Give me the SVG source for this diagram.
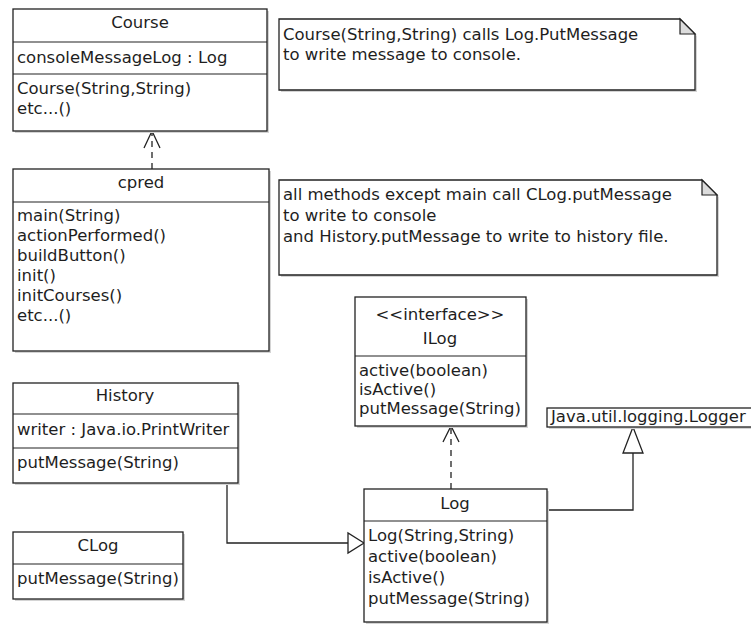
<svg xmlns="http://www.w3.org/2000/svg" width="751" height="625" viewBox="0 0 751 625">
<defs>
<style>
.box{fill:#fff;stroke:#222;stroke-width:1.3}
.sh{fill:#d4d4d4}
.div{stroke:#222;stroke-width:1.2}
text{font-family:"DejaVu Sans","Liberation Sans",sans-serif;font-size:16.5px;fill:#1e1e1e}
.c{text-anchor:middle}
.ln{fill:none;stroke:#222;stroke-width:1.3}
.dash{stroke-dasharray:6 5}
.head{fill:#fff;stroke:#222;stroke-width:1.3}
.fold{fill:#dcdcdc;stroke:#222;stroke-width:1.2}
</style>
</defs>
<rect width="751" height="625" fill="#fff"/>

<g id="connectors">
<path class="ln dash" d="M152,169 V133"/>
<path class="ln" d="M144,148 L152,131 L160,148"/>
<path class="ln dash" d="M451,489 V428"/>
<path class="ln" d="M443,442 L451,426 L459,442"/>
<path class="ln" d="M547,510 H633 V453"/>
<path class="head" d="M633,427 L623,453 L643,453 Z"/>
<path class="ln" d="M227,483 V543 H348"/>
<path class="head" d="M364,543 L348,533 L348,553 Z"/>
</g>

<g id="course">
<rect class="sh" x="15" y="11" width="254" height="122"/>
<rect class="box" x="13" y="9" width="254" height="122"/>
<line class="div" x1="13" y1="42" x2="267" y2="42"/>
<line class="div" x1="13" y1="74" x2="267" y2="74"/>
<text class="c" x="140" y="28">Course</text>
<text x="17" y="63">consoleMessageLog : Log</text>
<text x="17" y="94">Course(String,String)</text>
<text x="17" y="114">etc...()</text>
</g>

<g id="note1">
<path class="sh" d="M281,21 H682 L697,36 V92 H281 Z"/>
<path class="box" d="M279,19 H680 L695,34 V90 H279 Z"/>
<path class="fold" d="M680,19 V34 H695 Z"/>
<text x="283" y="40">Course(String,String) calls Log.PutMessage</text>
<text x="283" y="60">to write message to console.</text>
</g>

<g id="cpred">
<rect class="sh" x="15" y="171" width="256" height="182"/>
<rect class="box" x="13" y="169" width="256" height="182"/>
<line class="div" x1="13" y1="202" x2="269" y2="202"/>
<text class="c" x="141" y="188">cpred</text>
<text x="17" y="221">main(String)</text>
<text x="17" y="241">actionPerformed()</text>
<text x="17" y="261">buildButton()</text>
<text x="17" y="281">init()</text>
<text x="17" y="301">initCourses()</text>
<text x="17" y="321">etc...()</text>
</g>

<g id="note2">
<path class="sh" d="M281,182 H704 L719,197 V277 H281 Z"/>
<path class="box" d="M279,180 H702 L717,195 V275 H279 Z"/>
<path class="fold" d="M702,180 V195 H717 Z"/>
<text x="283" y="200">all methods except main call CLog.putMessage</text>
<text x="283" y="221">to write to console</text>
<text x="283" y="242">and History.putMessage to write to history file.</text>
</g>

<g id="ilog">
<rect class="sh" x="357" y="299" width="171" height="129"/>
<rect class="box" x="355" y="297" width="171" height="129"/>
<line class="div" x1="355" y1="356" x2="526" y2="356"/>
<text class="c" x="440" y="320">&lt;&lt;interface&gt;&gt;</text>
<text class="c" x="440" y="344">ILog</text>
<text x="359" y="376">active(boolean)</text>
<text x="359" y="395">isActive()</text>
<text x="359" y="414">putMessage(String)</text>
</g>

<g id="logger">
<rect class="sh" x="549" y="410" width="220" height="19"/>
<rect class="box" x="547" y="408" width="220" height="19"/>
<text x="551" y="422">Java.util.logging.Logger</text>
</g>

<g id="history">
<rect class="sh" x="15" y="385" width="225" height="100"/>
<rect class="box" x="13" y="383" width="225" height="100"/>
<line class="div" x1="13" y1="414" x2="238" y2="414"/>
<line class="div" x1="13" y1="448" x2="238" y2="448"/>
<text class="c" x="125" y="401">History</text>
<text x="17" y="435">writer : Java.io.PrintWriter</text>
<text x="17" y="468">putMessage(String)</text>
</g>

<g id="clog">
<rect class="sh" x="15" y="534" width="170" height="67"/>
<rect class="box" x="13" y="532" width="170" height="67"/>
<line class="div" x1="13" y1="564" x2="183" y2="564"/>
<text class="c" x="98" y="551">CLog</text>
<text x="17" y="584">putMessage(String)</text>
</g>

<g id="log">
<rect class="sh" x="366" y="491" width="183" height="133"/>
<rect class="box" x="364" y="489" width="183" height="133"/>
<line class="div" x1="364" y1="521" x2="547" y2="521"/>
<text class="c" x="455" y="509">Log</text>
<text x="368" y="541">Log(String,String)</text>
<text x="368" y="562">active(boolean)</text>
<text x="368" y="583">isActive()</text>
<text x="368" y="604">putMessage(String)</text>
</g>
</svg>
